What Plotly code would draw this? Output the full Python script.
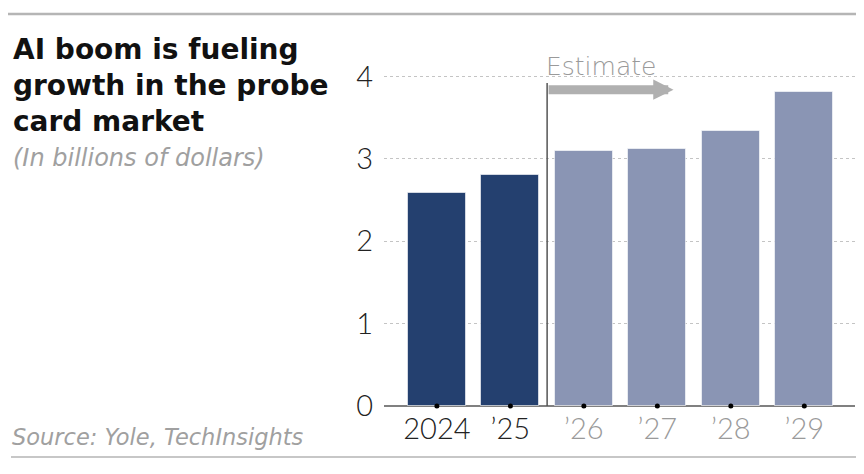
import plotly.graph_objects as go

years = ["2024", "\u201925", "\u201926", "\u201927", "\u201928", "\u201929"]
values = [2.58, 2.80, 3.10, 3.12, 3.34, 3.81]
is_estimate = [False, False, True, True, True, True]
y_ticks = [0, 1, 2, 3, 4]

DARK = "#24406f"
LIGHT = "#8a95b4"
TICKFONT = "Lato"
TEXTFONT = "DejaVu Sans"

# page body has an 8px margin; build the figure to sit inside it
OFF = 8
W, H = 848, 458
L, R, T, B = 376, 1, 52, 60
pw, ph = W - L - R, H - T - B


def px_x(p):
    return (p - OFF - L) / pw


def px_y(q):
    return (H - B - (q - OFF)) / ph


xs = list(range(len(years)))
colors = [LIGHT if e else DARK for e in is_estimate]
tick_text = [
    f"<span style='color:{'#9a9a9a' if e else '#222'}'>{y}</span>"
    for y, e in zip(years, is_estimate)
]

fig = go.Figure()
fig.add_trace(go.Bar(
    x=xs, y=values, width=0.79,
    marker=dict(color=colors, line=dict(color="rgba(255,255,255,0.6)", width=1)),
    hoverinfo="skip",
))
fig.add_trace(go.Scatter(
    x=xs, y=[0] * len(xs), mode="markers",
    marker=dict(color="black", size=5), cliponaxis=False, hoverinfo="skip",
))

# estimate divider
split = is_estimate.index(True) - 0.5
fig.add_shape(type="line", xref="x", yref="y", x0=split, x1=split, y0=0, y1=3.92,
              line=dict(color="#555", width=1.5))
fig.add_annotation(x=3.22, y=3.84, ax=split, ay=3.84, xref="x", yref="y",
                   axref="x", ayref="y", showarrow=True, arrowhead=2,
                   arrowsize=0.45, arrowwidth=9, arrowcolor="#b0b0b0",
                   standoff=0, startstandoff=0, text="")
fig.add_annotation(x=px_x(544), y=px_y(66), xref="paper", yref="paper",
                   xanchor="left", yanchor="middle", showarrow=False,
                   text="Estimate",
                   font=dict(family=TEXTFONT, size=25, color="#9a9a9a", weight=200))

# title block
title_lines = ["AI boom is fueling", "growth in the probe", "card market"]
for i, line in enumerate(title_lines):
    fig.add_annotation(x=px_x(11), y=px_y(49 + i * 36), xref="paper", yref="paper",
                       xanchor="left", yanchor="middle", align="left",
                       showarrow=False, text=f"<b>{line}</b>",
                       font=dict(family=TEXTFONT, size=28, color="#111"))
fig.add_annotation(x=px_x(11), y=px_y(158), xref="paper", yref="paper",
                   xanchor="left", yanchor="middle", align="left", showarrow=False,
                   text="<i>(In billions of dollars)</i>",
                   font=dict(family=TEXTFONT, size=24, color="#a0a0a0", weight=200))
fig.add_annotation(x=px_x(10), y=px_y(437), xref="paper", yref="paper",
                   xanchor="left", yanchor="middle", align="left", showarrow=False,
                   text="<i>Source: Yole, TechInsights</i>",
                   font=dict(family=TEXTFONT, size=22.5, color="#a0a0a0", weight=200))

# rules
fig.add_shape(type="line", xref="paper", yref="paper", x0=px_x(8), x1=px_x(857),
              y0=px_y(14), y1=px_y(14), line=dict(color="#b5b5b5", width=2.5))
fig.add_shape(type="line", xref="paper", yref="paper", x0=px_x(11), x1=px_x(857),
              y0=px_y(457), y1=px_y(457), line=dict(color="#b5b5b5", width=1.5))

fig.update_layout(
    width=W, height=H,
    margin=dict(l=L, r=R, t=T, b=B, pad=0),
    paper_bgcolor="white", plot_bgcolor="white",
    showlegend=False, bargap=0,
    font=dict(family=TICKFONT),
)
fig.update_xaxes(
    range=[-0.72, 5.69], tickvals=xs, ticktext=tick_text,
    showgrid=False, zeroline=False, showline=False,
    ticks="", ticklabelstandoff=3,
    tickfont=dict(family=TICKFONT, size=29, weight=300),
    fixedrange=True,
)
fig.update_yaxes(
    range=[0, 4.2], tickvals=y_ticks, ticktext=[str(t) for t in y_ticks],
    showgrid=True, gridcolor="#c4c4c4", griddash="dot", gridwidth=1,
    zeroline=True, zerolinecolor="#808080", zerolinewidth=1.5,
    showline=False, ticks="outside", ticklen=4, tickcolor="rgba(0,0,0,0)",
    tickfont=dict(family=TICKFONT, size=29, color="#222", weight=300),
    fixedrange=True,
)

fig.write_html("out.html", config={"displayModeBar": False})
